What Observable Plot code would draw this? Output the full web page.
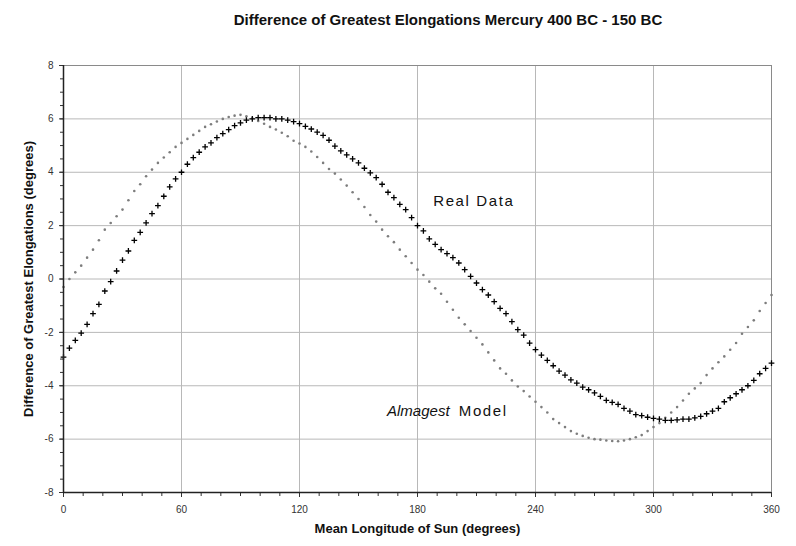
<!DOCTYPE html>
<html>
<head>
<meta charset="utf-8">
<script src="https://cdn.jsdelivr.net/npm/d3@7"></script>
<script src="https://cdn.jsdelivr.net/npm/@observablehq/plot@0.6"></script>
<style>
  html, body { margin: 0; padding: 0; background: #fff; }
  #wrap { position: relative; width: 796px; height: 546px; }
  #title { position: absolute; left: 50px; top: 11px; width: 796px; text-align: center;
    font-family: "Liberation Sans", Arial, sans-serif; font-weight: bold; font-size: 15px; color: #111; }
  #chart { position: absolute; left: 0; top: 0; }
</style>
</head>
<body>
<div id="wrap">
<div id="chart"></div>
<div id="title">Difference of Greatest Elongations Mercury 400 BC - 150 BC</div>
</div>
<script>
const longitudes = d3.range(0, 361, 3);
const realData = [
  -2.93, -2.59, -2.30, -2.03, -1.70, -1.30, -0.95, -0.45, -0.10, 0.30,
  0.71, 1.05, 1.45, 1.75, 2.10, 2.45, 2.75, 3.10, 3.45, 3.75,
  4.00, 4.30, 4.55, 4.75, 4.95, 5.10, 5.30, 5.45, 5.60, 5.75,
  5.85, 5.95, 6.00, 6.05, 6.05, 6.05, 6.00, 6.00, 5.95, 5.90,
  5.82, 5.72, 5.62, 5.50, 5.38, 5.20, 4.98, 4.80, 4.65, 4.50,
  4.35, 4.15, 3.98, 3.80, 3.55, 3.25, 3.05, 2.80, 2.60, 2.30,
  2.00, 1.80, 1.50, 1.30, 1.10, 0.95, 0.80, 0.60, 0.35, 0.10,
  -0.15, -0.40, -0.60, -0.85, -1.10, -1.30, -1.60, -1.90, -2.10, -2.40,
  -2.65, -2.85, -3.05, -3.25, -3.45, -3.60, -3.78, -3.90, -4.05, -4.15,
  -4.27, -4.40, -4.55, -4.62, -4.70, -4.85, -4.95, -5.08, -5.12, -5.18,
  -5.22, -5.25, -5.30, -5.30, -5.28, -5.25, -5.25, -5.20, -5.15, -5.05,
  -4.95, -4.85, -4.60, -4.45, -4.30, -4.15, -4.00, -3.80, -3.55, -3.35,
  -3.15
];
const almagestModel = [
  -0.30, 0.00, 0.25, 0.50, 0.80, 1.10, 1.45, 1.85, 2.10, 2.35,
  2.60, 2.95, 3.30, 3.55, 3.85, 4.10, 4.35, 4.55, 4.75, 4.95,
  5.10, 5.25, 5.40, 5.55, 5.70, 5.80, 5.90, 6.00, 6.07, 6.12,
  6.15, 6.10, 6.02, 5.92, 5.82, 5.70, 5.60, 5.48, 5.35, 5.18,
  5.08, 4.95, 4.78, 4.57, 4.35, 4.12, 3.95, 3.73, 3.50, 3.25,
  3.00, 2.70, 2.40, 2.15, 1.85, 1.60, 1.38, 1.10, 0.85, 0.60,
  0.35, 0.15, -0.10, -0.35, -0.55, -0.85, -1.15, -1.45, -1.70, -1.95,
  -2.20, -2.45, -2.75, -3.05, -3.35, -3.55, -3.80, -4.03, -4.20, -4.40,
  -4.60, -4.80, -5.00, -5.25, -5.40, -5.55, -5.70, -5.80, -5.88, -5.95,
  -6.00, -6.02, -6.05, -6.07, -6.08, -6.05, -6.00, -5.93, -5.85, -5.70,
  -5.55, -5.40, -5.20, -5.00, -4.80, -4.55, -4.30, -4.10, -3.90, -3.60,
  -3.35, -3.12, -2.90, -2.65, -2.40, -2.05, -1.80, -1.55, -1.20, -0.90,
  -0.60
];
const xTicks = [0, 60, 120, 180, 240, 300, 360];
const yTicks = [-8, -6, -4, -2, 0, 2, 4, 6, 8];
const xMinorTicks = d3.range(0, 361, 10);
const yMinorTicks = d3.range(-8, 8.01, 0.5);
const plainLabels = [
  {x: 188, y: 2.9, text: "Real Data"},
  {x: 201, y: -4.97, text: "Model"}
];
const italicLabels = [
  {x: 164.5, y: -4.97, text: "Almagest"}
];

const realRows = longitudes.map((x, i) => ({x, y: realData[i]}));
const modelRows = longitudes.map((x, i) => ({x, y: almagestModel[i]}));

const font = '"Liberation Sans", Arial, sans-serif';
const fmt = d => String(d);
const chart = Plot.plot({
  width: 796,
  height: 546,
  marginTop: 65,
  marginBottom: 54,
  marginLeft: 63,
  marginRight: 25,
  style: {fontFamily: font, fontSize: "10px", color: "#222", background: "#fff"},
  x: {domain: [0, 360], ticks: xTicks},
  y: {domain: [-8, 8], ticks: yTicks},
  marks: [
    Plot.gridX(xTicks.slice(1, -1), {stroke: "#b8b8b8", strokeOpacity: 1, strokeWidth: 1}),
    Plot.gridY(yTicks.slice(1, -1), {stroke: "#b8b8b8", strokeOpacity: 1, strokeWidth: 1}),
    Plot.frame({stroke: "#8a8a8a"}),
    Plot.dot(modelRows, {x: "x", y: "y", r: 1.3, fill: "#7d7d7d", stroke: "none"}),
    Plot.dot(realRows, {x: "x", y: "y", symbol: "plus", r: 2, stroke: "#000", strokeWidth: 1.3}),
    Plot.axisX(xMinorTicks, {tickSize: 4, text: null, label: null, stroke: "#333"}),
    Plot.axisX(xTicks, {tickSize: 5, tickPadding: 8, stroke: "#333", fill: "#333", fontSize: 10, tickFormat: fmt,
      label: "Mean Longitude of Sun (degrees)", labelAnchor: "center", labelArrow: "none", labelOffset: 40}),
    Plot.axisY(yMinorTicks, {tickSize: 3, text: null, label: null, stroke: "#333"}),
    Plot.axisY(yTicks, {tickSize: 4, tickPadding: 6, stroke: "#333", fill: "#333", fontSize: 10, tickFormat: fmt,
      label: "Difference of Greatest Elongations (degrees)", labelAnchor: "center", labelArrow: "none", labelOffset: 40}),
    Plot.ruleY([-8], {stroke: "#222", strokeWidth: 1.5}),
    Plot.ruleX([0], {stroke: "#222", strokeWidth: 1.5}),
    Plot.text(plainLabels, {x: "x", y: "y", text: "text", textAnchor: "start",
      fontSize: 15, fill: "#111", fontFamily: font}),
    Plot.text(italicLabels, {x: "x", y: "y", text: "text", textAnchor: "start", fontStyle: "italic",
      fontSize: 15, fill: "#111", fontFamily: font})
  ]
});
document.getElementById("chart").appendChild(chart);
chart.querySelectorAll('[aria-label="x-axis label"] text, [aria-label="y-axis label"] text').forEach(t => {
  t.style.fontWeight = "bold"; t.style.fontSize = "13px"; t.style.fill = "#111";
});
const textGroups = chart.querySelectorAll('g[aria-label="text"]');
if (textGroups[0]) textGroups[0].querySelectorAll("text").forEach(t => { t.style.letterSpacing = "1.6px"; });
</script>
</body>
</html>
